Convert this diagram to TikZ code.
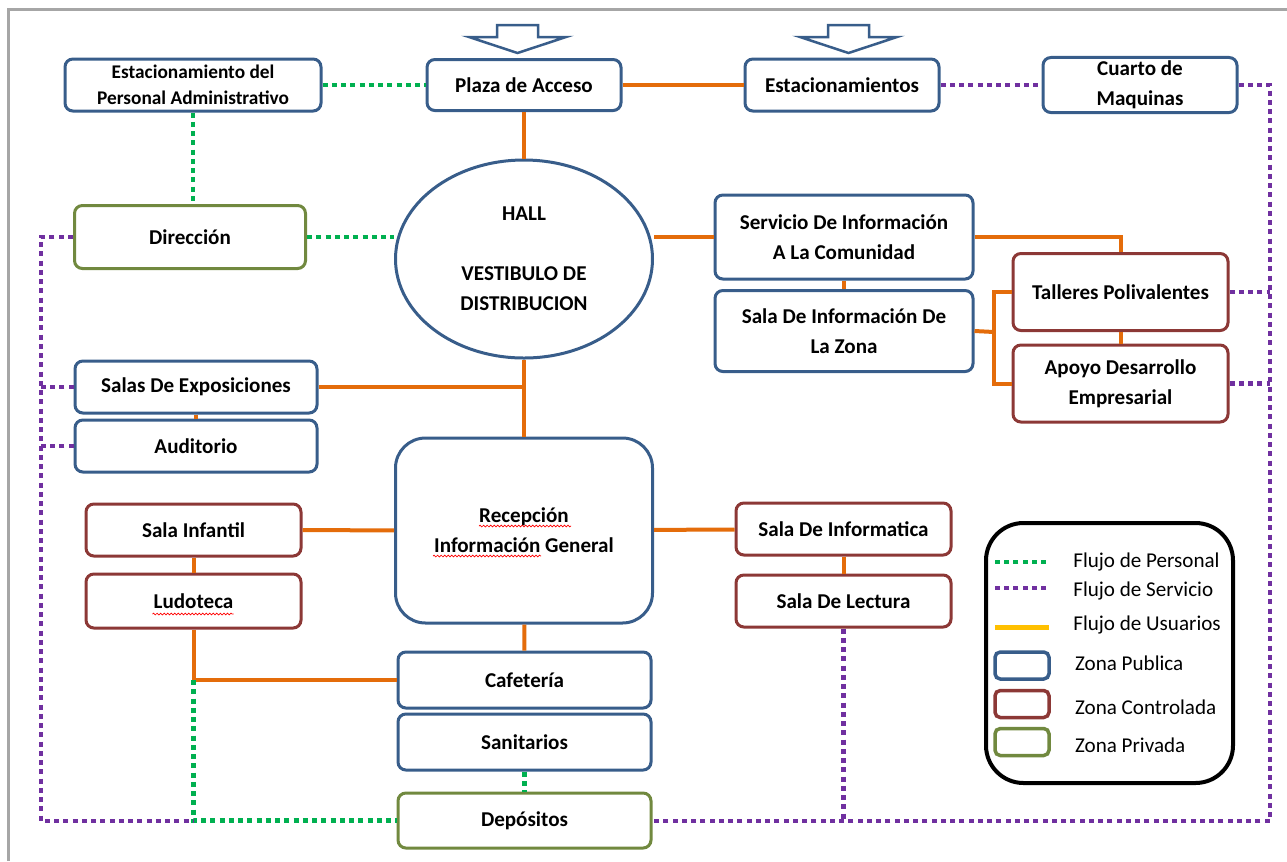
\documentclass[tikz,border=0pt]{standalone}
\usepackage{fontspec}
\setmainfont{Carlito}
\usetikzlibrary{positioning,shapes.geometric,calc,decorations.pathmorphing}
\definecolor{zonePub}{RGB}{56,93,138}
\definecolor{zoneCtrl}{RGB}{140,56,54}
\definecolor{zonePriv}{RGB}{113,137,63}
\definecolor{flowUser}{RGB}{228,108,10}
\definecolor{flowPers}{RGB}{0,176,80}
\definecolor{flowServ}{RGB}{112,48,160}
\definecolor{legUser}{RGB}{255,192,0}
\definecolor{frameGray}{RGB}{166,166,166}
\tikzset{
    every node/.append style={align=center},
    box/.style={rectangle,line width=0.06cm,rounded corners=4.5pt,inner sep=2pt,
        font=\bfseries\fontsize{12}{17}\selectfont},
    pub/.style={box,draw=zonePub},
    ctrl/.style={box,draw=zoneCtrl},
    priv/.style={box,draw=zonePriv},
    usr/.style={draw=flowUser,line width=0.08cm},
    persflow/.style={draw=flowPers,line width=0.09cm,dash pattern=on 0.1cm off 0.085cm},
    servflow/.style={draw=flowServ,line width=0.09cm,dash pattern=on 0.1cm off 0.085cm},
    spell/.style={draw=red,line width=0.4pt,decorate,
        decoration={snake,amplitude=0.5pt,segment length=2pt}},
    legtxt/.style={font=\fontsize{12}{15}\selectfont,inner sep=0pt},
    swatch/.style={rectangle,line width=0.07cm,rounded corners=3pt,minimum width=1.08cm,
        minimum height=0.54cm,inner sep=0}
}

\begin{document}
\begin{tikzpicture}
    \useasboundingbox (0,0) rectangle (25.74,-17.22);
    \draw[frameGray,line width=0.06cm] (0.17,-17.22) -- (0.17,-0.19) -- (25.74,-0.19);

    % entry arrows
    \foreach \ax in {9.94,16.56}
        \draw[zonePub,fill=white,line width=0.05cm] (\ax,-0.50) -- ++(0.82,0) -- ++(0,-0.24)
            -- ++(0.56,0) -- ++(-0.97,-0.32) -- ++(-0.97,0.32) -- ++(0.56,0) -- cycle;

    \node[pub,minimum width=5.12cm,minimum height=1.04cm,
        font=\bfseries\fontsize{11}{15}\selectfont]                  (estpers)  at ( 3.86, -1.70) {Estacionamiento del\\Personal Administrativo};
    \node[pub,minimum width=3.88cm,minimum height=1.02cm]            (plaza)    at (10.48, -1.70) {Plaza de Acceso};
    \node[pub,minimum width=3.88cm,minimum height=1.04cm]            (estac)    at (16.84, -1.70) {Estacionamientos};
    \node[pub,minimum width=3.88cm,minimum height=1.04cm]            (cuarto)   at (22.80, -1.70) {Cuarto de\\Maquinas};
    \node[priv,minimum width=4.62cm,minimum height=1.26cm]           (dir)      at ( 3.80, -4.74) {Dirección};
    \node[ellipse,draw=zonePub,line width=0.06cm,minimum width=5.14cm,minimum height=3.96cm,inner sep=0,
        font=\bfseries\fontsize{12}{17}\selectfont]                  (hall)     at (10.48, -5.18) {HALL\\[17pt]VESTIBULO DE\\DISTRIBUCION};
    \node[pub,minimum width=5.16cm,minimum height=1.68cm]            (sic)      at (16.88, -4.74) {Servicio De Información\\A La Comunidad};
    \node[pub,minimum width=5.16cm,minimum height=1.62cm]            (siz)      at (16.88, -6.62) {Sala De Información De\\La Zona};
    \node[ctrl,minimum width=4.30cm,minimum height=1.54cm]           (tall)     at (22.41, -5.84) {Talleres Polivalentes};
    \node[ctrl,minimum width=4.30cm,minimum height=1.54cm]           (apoyo)    at (22.41, -7.67) {Apoyo Desarrollo\\Empresarial};
    \node[pub,minimum width=4.84cm,minimum height=1.04cm]            (salas)    at ( 3.92, -7.74) {Salas De Exposiciones};
    \node[pub,minimum width=4.84cm,minimum height=1.04cm]            (audit)    at ( 3.92, -8.92) {Auditorio};
    \node[ctrl,minimum width=4.30cm,minimum height=1.04cm]           (infantil) at ( 3.87,-10.60) {Sala Infantil};
    \node[ctrl,minimum width=4.30cm,minimum height=1.08cm]           (ludo)     at ( 3.87,-12.02) {Ludoteca};
    \node[pub,rounded corners=0.6cm,minimum width=5.14cm,minimum height=3.70cm] (recep) at (10.48,-10.61) {Recepción\\Información General};
    \node[ctrl,minimum width=4.30cm,minimum height=1.04cm]           (inform)   at (16.87,-10.58) {Sala De Informatica};
    \node[ctrl,minimum width=4.30cm,minimum height=1.04cm]           (lect)     at (16.87,-12.02) {Sala De Lectura};
    \node[pub,minimum width=5.06cm,minimum height=1.12cm]            (cafe)     at (10.49,-13.60) {Cafetería};
    \node[pub,minimum width=5.06cm,minimum height=1.12cm]            (sanit)    at (10.49,-14.84) {Sanitarios};
    \node[priv,minimum width=5.06cm,minimum height=1.10cm]           (dep)      at (10.49,-16.41) {Depósitos};

    % spell-check marks
    \draw[spell] ($(recep.center)+(-0.90,0.09)$) -- ++(1.84,0);
    \draw[spell] ($(recep.center)+(-1.82,-0.51)$) -- ++(2.16,0);
    \draw[spell] ($(ludo.center)+(-0.82,-0.26)$) -- ++(1.62,0);

    % flujo de usuarios
    \draw[usr] (plaza) -- (estac);
    \draw[usr] (plaza) -- (hall);
    \draw[usr] (hall.south) -- (recep.north);
    \draw[usr] (salas.east) -- (salas.east -| hall.south);
    \draw[usr] (sic.west) -- (sic.west -| hall.east);
    \draw[usr] (sic) -- (siz);
    \draw[usr] (sic.east) -| (tall.north);
    \draw[usr] (tall) -- (apoyo);
    \coordinate (brk) at (19.88,-6.64);
    \draw[usr] (siz.east) -- (brk);
    \draw[usr] (tall.west) -| (brk) |- (apoyo.west);
    \draw[usr] (salas) -- (audit);
    \draw[usr] (infantil) -- (recep);
    \draw[usr] (recep) -- (inform);
    \draw[usr] (infantil) -- (ludo);
    \draw[usr] (inform) -- (lect);
    \draw[usr] (recep) -- (cafe);
    \coordinate (ludoturn) at (ludo.south |- cafe.west);
    \draw[usr] (ludo.south) -- (ludoturn) -- (cafe.west);

    % flujo de personal
    \draw[persflow] (estpers) -- (plaza);
    \draw[persflow] (estpers.south) -- (estpers.south |- dir.north);
    \draw[persflow] (dir.east) -- (dir.east -| hall.west);
    \draw[persflow] (ludoturn) |- (dep.west);
    \draw[persflow] (sanit) -- (dep);

    % flujo de servicio
    \coordinate (servL) at (0.82,-16.42);
    \coordinate (servR) at (25.40,-16.42);
    \draw[servflow] (dir.west) -| (servL) -- (ludoturn |- servL);
    \draw[servflow] (salas.west) -- (salas.west -| servL);
    \draw[servflow] (audit.west) -- (audit.west -| servL);
    \draw[servflow] (estac) -- (cuarto);
    \draw[servflow] (cuarto.east) -| (servR) -- (dep.east |- servR);
    \draw[servflow] (tall.east) -- (tall.east -| servR);
    \draw[servflow] (apoyo.east) -- (apoyo.east -| servR);
    \draw[servflow] (lect.south) -- (lect.south |- servR);

    % leyenda
    \node[rectangle,draw=black,line width=0.08cm,rounded corners=0.75cm,minimum width=4.94cm,
        minimum height=5.20cm] (legend) at (22.19,-13.06) {};
    \coordinate (kpers) at (20.92,-11.24);
    \coordinate (kserv) at (20.92,-11.76);
    \coordinate (kuser) at (20.98,-12.54);
    \draw[persflow] (kpers) -- ++(-1.02,0);
    \draw[servflow] (kserv) -- ++(-1.02,0);
    \draw[draw=legUser,line width=0.1cm] (kuser) -- ++(-1.08,0);
    \node[swatch,draw=zonePub]  (kpub)  at (20.44,-13.31) {};
    \node[swatch,draw=zoneCtrl] (kctrl) at (20.44,-14.08) {};
    \node[swatch,draw=zonePriv] (kpriv) at (20.44,-14.84) {};
    \node[legtxt,right=0.54cm of kpers] {Flujo de Personal};
    \node[legtxt,right=0.54cm of kserv,yshift=-0.05cm] {Flujo de Servicio};
    \node[legtxt,right=0.48cm of kuser,yshift=0.04cm] {Flujo de Usuarios};
    \node[legtxt,right=0.48cm of kpub,yshift=0.05cm] {Zona Publica};
    \node[legtxt,right=0.48cm of kctrl,yshift=-0.06cm] {Zona Controlada};
    \node[legtxt,right=0.48cm of kpriv,yshift=-0.06cm] {Zona Privada};
\end{tikzpicture}
\end{document}
